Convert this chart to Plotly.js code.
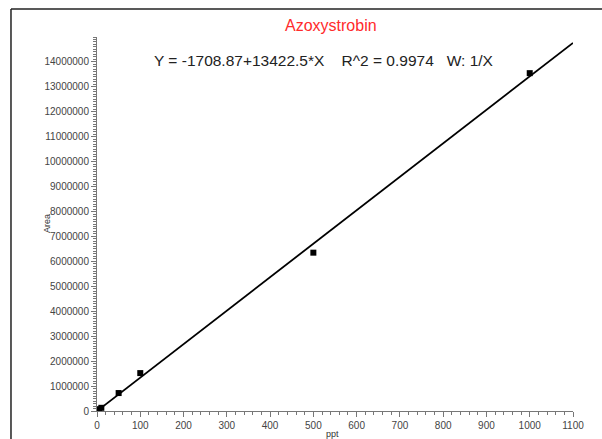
<!DOCTYPE html>
<html>
<head>
<meta charset="utf-8">
<script src="https://cdn.plot.ly/plotly-3.0.1.min.js"></script>
<style>html,body{margin:0;padding:0;background:#fff;}#chart{width:602px;height:439px;}</style>
</head>
<body>
<div id="chart"></div>
<script>
// Data
const concentrations = [1, 5, 10, 50, 100, 500, 1000];            // ppt
const areas = [14000, 72000, 128000, 720000, 1520000, 6350000, 13550000];
const fitX = [0, 1100];
const fitIntercept = -1708.87;
const fitSlope = 13422.5;
const fitY = fitX.map(x => fitIntercept + fitSlope * x);
const xTickVals = [0,100,200,300,400,500,600,700,800,900,1000,1100];
const yTickVals = [0,1000000,2000000,3000000,4000000,5000000,6000000,7000000,8000000,9000000,10000000,11000000,12000000,13000000,14000000];
const titleText = 'Azoxystrobin';
const equationText = 'Y = -1708.87+13422.5*X&nbsp;&nbsp;&nbsp;&nbsp;R^2 = 0.9974&nbsp;&nbsp;&nbsp;W: 1/X';
const xTitle = 'ppt';
const yTitle = 'Area';

const font = 'Liberation Sans, Arial, sans-serif';

const traces = [
  {x: fitX, y: fitY, mode: 'lines', line: {color: '#000', width: 1.8}, hoverinfo: 'skip'},
  {x: concentrations, y: areas, mode: 'markers', marker: {symbol: 'square', size: 6, color: '#000'}}
];

const axisCommon = {
  showgrid: false, zeroline: false, showline: true, linecolor: '#777', linewidth: 1,
  ticks: 'outside', ticklen: 5, tickcolor: '#777', tickwidth: 1,
  tickfont: {family: font, size: 10, color: '#444'}
};

const layout = {
  width: 602, height: 439,
  margin: {l: 97, r: 29, t: 37, b: 28},
  paper_bgcolor: '#fff', plot_bgcolor: '#fff',
  showlegend: false,
  xaxis: Object.assign({}, axisCommon, {
    range: [0, 1100], tickmode: 'array', tickvals: xTickVals, ticktext: xTickVals.map(String),
    minor: {dtick: 20, ticks: 'outside', ticklen: 3, tickcolor: '#777'}
  }),
  yaxis: Object.assign({}, axisCommon, {
    range: [0, 15000000], tickmode: 'array', tickvals: yTickVals, ticktext: yTickVals.map(String),
    minor: {dtick: 100000, ticks: 'outside', ticklen: 3, tickcolor: '#777'}
  }),
  annotations: [
    {text: titleText, xref: 'paper', yref: 'paper', x: 0.4916, y: 1.032, xanchor: 'center', yanchor: 'middle',
     showarrow: false, font: {family: font, size: 16, color: '#ff2b2b'}},
    {text: equationText, xref: 'paper', yref: 'paper', x: 0.1155, y: 0.9385, xanchor: 'left', yanchor: 'middle',
     showarrow: false, font: {family: font, size: 15.5, color: '#222'}},
    {text: xTitle, xref: 'paper', yref: 'paper', x: 0.4937, y: -0.0615, xanchor: 'center', yanchor: 'middle',
     showarrow: false, font: {family: font, size: 9, color: '#333'}},
    {text: yTitle, xref: 'paper', yref: 'paper', x: -0.105, y: 0.5, xanchor: 'center', yanchor: 'middle', textangle: -90,
     showarrow: false, font: {family: font, size: 9, color: '#333'}}
  ],
  shapes: [
    {type: 'line', xref: 'paper', yref: 'paper', x0: -0.1807, x1: 1.0651, y0: 1.0749, y1: 1.0749, line: {color: '#222', width: 1.5}},
    {type: 'line', xref: 'paper', yref: 'paper', x0: -0.1807, x1: -0.1807, y0: 1.0749, y1: -0.08, line: {color: '#222', width: 1.5}}
  ]
};

Plotly.newPlot('chart', traces, layout, {displayModeBar: false, staticPlot: true});
</script>
</body>
</html>
